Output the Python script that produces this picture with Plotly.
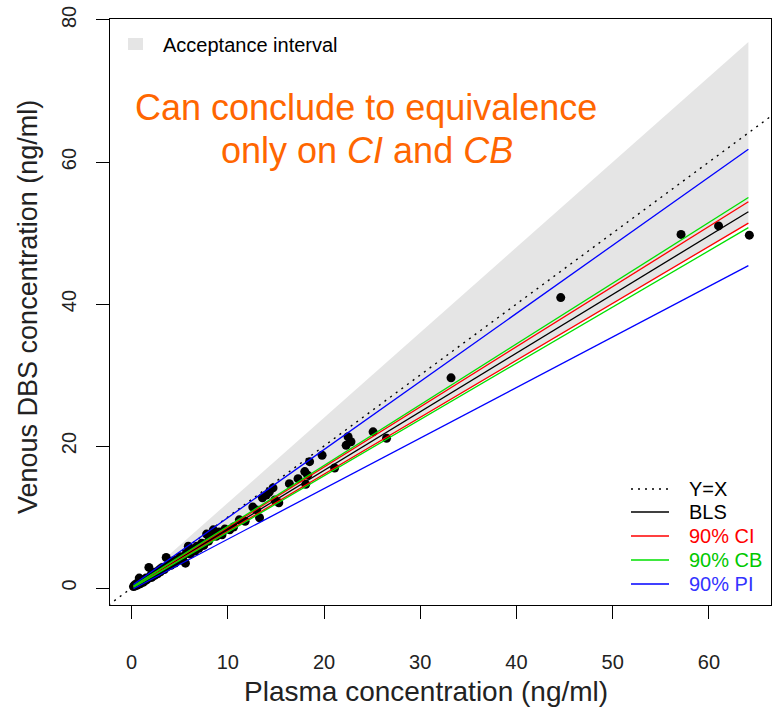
import plotly.graph_objects as go

# ---- data -------------------------------------------------------------
plasma = [0.2, 0.3, 0.4, 0.5, 0.6, 0.7, 0.8, 0.9, 1.0, 1.1, 1.2, 1.3, 1.4, 1.5,
          1.6, 1.8, 1.9, 2.0, 2.1, 2.3, 2.4, 2.6, 2.7, 2.9, 3.0, 3.2, 3.4, 3.6,
          3.7, 3.9, 4.1, 4.3, 4.5, 4.7, 4.9, 5.1, 5.3, 5.6, 5.7, 5.9, 6.1, 6.3,
          6.6, 6.8, 7.0, 7.3, 7.5, 7.8, 8.0, 8.3, 8.5, 8.8, 9.1, 9.4, 9.7, 10.2,
          10.6, 11.2, 11.8, 12.6, 13.0, 13.3, 13.6, 14.0, 14.3, 14.7, 14.9, 15.3,
          16.4, 17.3, 18.0, 18.1, 18.3, 18.5, 19.8, 21.1, 22.3, 22.5, 22.8, 25.1,
          26.5, 33.2, 44.6, 57.1, 61.0, 64.2]
venous = [0.2, 0.4, 0.3, 0.6, 0.4, 0.7, 1.4, 0.6, 0.9, 1.1, 0.8, 1.2, 1.0, 1.4,
          1.2, 2.9, 1.5, 1.8, 1.5, 2.2, 1.8, 2.3, 2.0, 2.6, 2.3, 2.9, 2.6, 4.3,
          3.0, 3.5, 3.2, 3.8, 3.5, 4.0, 3.9, 4.4, 4.1, 3.5, 4.9, 5.9, 4.8, 5.5,
          5.2, 5.9, 5.6, 6.3, 6.0, 7.6, 6.6, 7.2, 8.2, 7.3, 7.9, 7.5, 8.3, 8.2,
          8.6, 9.6, 9.4, 11.4, 11.0, 9.9, 12.7, 13.1, 13.5, 14.1, 12.4, 12.0,
          14.7, 15.4, 16.4, 14.6, 15.9, 17.8, 18.7, 16.9, 20.1, 21.3, 20.6, 22.0,
          21.1, 29.6, 40.9, 49.8, 51.0, 49.7]

# fitted lines evaluated at the ends of the plasma range
fit_x = [0.2, 64.1]
bls = [0.2, 53.0]
ci_low = [0.15, 51.4]
ci_high = [0.25, 54.4]
cb_low = [0.1, 50.75]
cb_high = [0.3, 55.0]
pi_low = [-0.1, 45.4]
pi_high = [0.5, 61.8]

# acceptance interval (80% - 120% of plasma)
accept_x = [0.0, 64.1]
accept_low = [0.0, 51.3]
accept_high = [0.0, 76.9]

identity = [-10, 80]

x_ticks = [0, 10, 20, 30, 40, 50, 60]
y_ticks = [0, 20, 40, 60, 80]

# ---- layout geometry (pixels) -----------------------------------------
W, H = 773, 708
L, R, T, B = 110, 2, 19, 103
PW, PH = W - L - R, H - T - B


def paper(px, py):
    """Convert a page pixel position to paper coordinates."""
    return (px - L) / PW, (H - B - py) / PH


FONT = "Liberation Sans, Arial, sans-serif"

fig = go.Figure()

# acceptance interval band
fig.add_trace(go.Scatter(
    x=accept_x + accept_x[::-1], y=accept_high + accept_low[::-1],
    fill="toself", fillcolor="#E5E5E5", line=dict(width=0),
    mode="lines", hoverinfo="skip"))

# observations
fig.add_trace(go.Scatter(
    x=plasma, y=venous, mode="markers",
    marker=dict(color="black", size=9, line=dict(width=0))))

line_w = 1.3
fig.add_trace(go.Scatter(x=identity, y=identity, mode="lines",
                         line=dict(color="black", width=1.4, dash="2px,5px")))
fig.add_trace(go.Scatter(x=fit_x, y=bls, mode="lines",
                         line=dict(color="black", width=line_w)))
for ys in (ci_low, ci_high):
    fig.add_trace(go.Scatter(x=fit_x, y=ys, mode="lines",
                             line=dict(color="#FF0000", width=line_w)))
for ys in (cb_low, cb_high):
    fig.add_trace(go.Scatter(x=fit_x, y=ys, mode="lines",
                             line=dict(color="#00E000", width=line_w)))
for ys in (pi_low, pi_high):
    fig.add_trace(go.Scatter(x=fit_x, y=ys, mode="lines",
                             line=dict(color="#0000FF", width=line_w)))

annotations = []
shapes = []

# headline text
for (cx, cy), txt in [((366, 107), "Can conclude to equivalence"),
                      ((367, 150), "only on <i>CI</i> and <i>CB</i>")]:
    ax, ay = paper(cx, cy)
    annotations.append(dict(x=ax, y=ay, xref="paper", yref="paper", text=txt,
                            showarrow=False, xanchor="center", yanchor="middle",
                            font=dict(family=FONT, size=36, color="#FF6600")))

# acceptance interval key (top left)
x0, y0 = paper(128, 50)
x1, y1 = paper(143, 38)
shapes.append(dict(type="rect", xref="paper", yref="paper", x0=x0, y0=y0,
                   x1=x1, y1=y1, fillcolor="#E5E5E5", line=dict(width=0)))
tx, ty = paper(161, 45)
annotations.append(dict(x=tx, y=ty, xref="paper", yref="paper",
                        text="Acceptance interval", showarrow=False,
                        xanchor="left", yanchor="middle",
                        font=dict(family=FONT, size=20, color="black")))

# line key (bottom right)
key_rows = [("Y=X", "black", "black", "2px,5px"),
            ("BLS", "black", "black", "solid"),
            ("90% CI", "#FF0000", "#FF0000", "solid"),
            ("90% CB", "#00E000", "#00C800", "solid"),
            ("90% PI", "#0000FF", "#3333FF", "solid")]
row_y = [489, 512, 536, 560, 584]
for (label, lc, tc, dash), py in zip(key_rows, row_y):
    lx0, ly = paper(631, py)
    lx1, _ = paper(669, py)
    shapes.append(dict(type="line", xref="paper", yref="paper", x0=lx0, x1=lx1,
                       y0=ly, y1=ly, line=dict(color=lc, width=1.4, dash=dash)))
    tx, _ = paper(687, py)
    annotations.append(dict(x=tx, y=ly, xref="paper", yref="paper", text=label,
                            showarrow=False, xanchor="left", yanchor="middle",
                            font=dict(family=FONT, size=20, color=tc)))

# axis titles
ax, ay = paper(426, 692)
annotations.append(dict(x=ax, y=ay, xref="paper", yref="paper",
                        text="Plasma concentration (ng/ml)", showarrow=False,
                        xanchor="center", yanchor="middle",
                        font=dict(family=FONT, size=28, color="#222222")))
ax, ay = paper(28, 307)
annotations.append(dict(x=ax, y=ay, xref="paper", yref="paper",
                        text="Venous DBS concentration (ng/ml)", showarrow=False,
                        textangle=-90, xanchor="center", yanchor="middle",
                        font=dict(family=FONT, size=27, color="#222222")))

axis_common = dict(showgrid=False, zeroline=False, showline=True, mirror=True,
                   linecolor="black", linewidth=1, ticks="outside",
                   tickcolor="black", tickwidth=1, ticklen=13,
                   tickfont=dict(family=FONT, size=20, color="#222222"))

fig.update_layout(
    width=W, height=H,
    margin=dict(l=L, r=R, t=T, b=B),
    paper_bgcolor="white", plot_bgcolor="white",
    showlegend=False,
    xaxis=dict(range=[-2.24, 66.45], tickvals=x_ticks, ticklabelstandoff=26,
               **axis_common),
    yaxis=dict(range=[-2.39, 80.14], tickvals=y_ticks, tickangle=-90,
               ticklabelstandoff=12, **axis_common),
    annotations=annotations,
    shapes=shapes,
)

fig.write_html("out.html")
